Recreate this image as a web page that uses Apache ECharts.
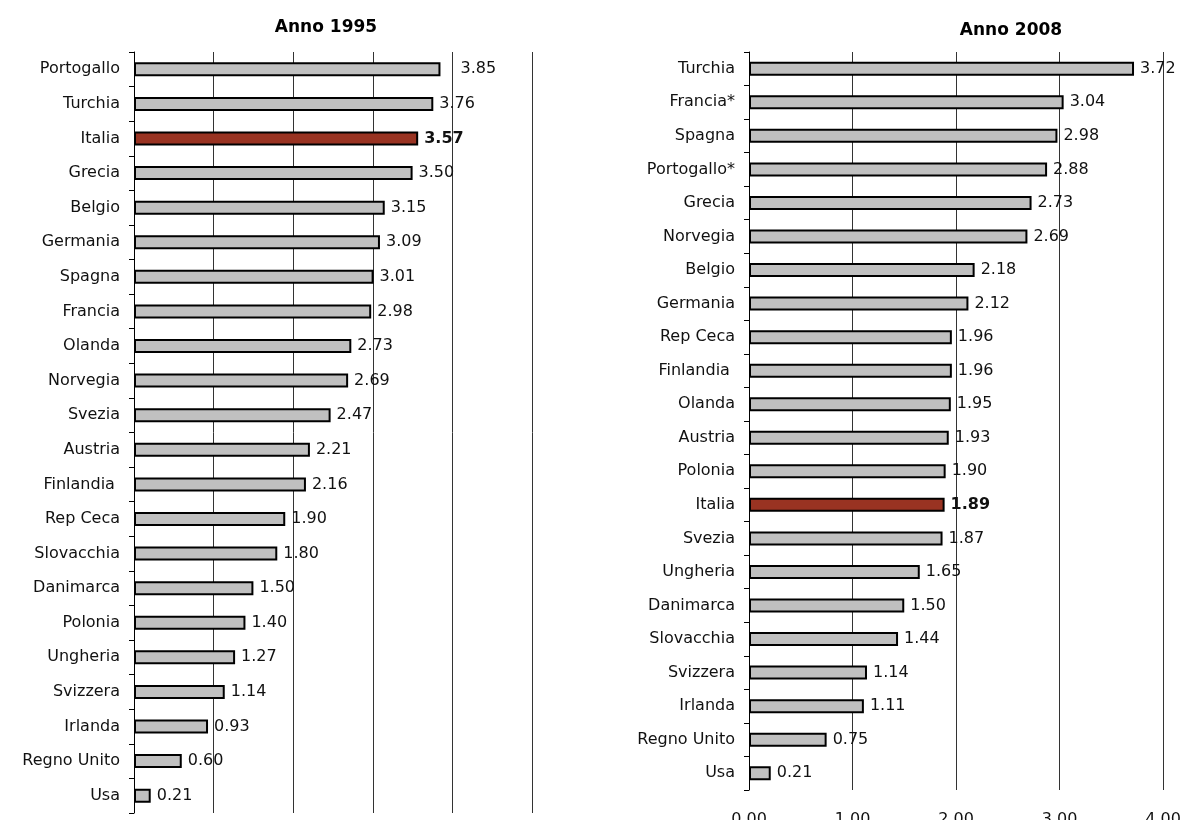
<!DOCTYPE html>
<html>
<head>
<meta charset="utf-8">
<script src="https://cdn.jsdelivr.net/npm/echarts@6/dist/echarts.min.js"></script>
<style>html,body{margin:0;padding:0;background:#fff}#c{width:1185px;height:820px}</style>
</head>
<body>
<div id="c"></div>
<script>
const cats1995 = ["Portogallo","Turchia","Italia","Grecia","Belgio","Germania","Spagna","Francia","Olanda","Norvegia","Svezia","Austria","Finlandia ","Rep Ceca","Slovacchia","Danimarca","Polonia","Ungheria","Svizzera","Irlanda","Regno Unito","Usa"];
const vals1995 = [3.85,3.76,3.57,3.50,3.15,3.09,3.01,2.98,2.73,2.69,2.47,2.21,2.16,1.90,1.80,1.50,1.40,1.27,1.14,0.93,0.60,0.21];
const cats2008 = ["Turchia","Francia*","Spagna","Portogallo*","Grecia","Norvegia","Belgio","Germania","Rep Ceca","Finlandia ","Olanda","Austria","Polonia","Italia","Svezia","Ungheria","Danimarca","Slovacchia","Svizzera","Irlanda","Regno Unito","Usa"];
const vals2008 = [3.72,3.04,2.98,2.88,2.73,2.69,2.18,2.12,1.96,1.96,1.95,1.93,1.90,1.89,1.87,1.65,1.50,1.44,1.14,1.11,0.75,0.21];
const titles = ["Anno 1995","Anno 2008"];
const highlight = "Italia";

const FONT = "DejaVu Sans";
function mkData(cats, vals, extraOffsetIdx) {
  return vals.map((v, i) => {
    const it = {value: v};
    if (cats[i] === highlight) {
      it.itemStyle = {color: '#993322'};
      it.label = {fontWeight: 'bold'};
    }
    if (i === extraOffsetIdx) {
      it.label = Object.assign({}, it.label || {}, {distance: 20});
    }
    return it;
  });
}
const chart = echarts.init(document.getElementById('c'));
const yAxisBase = {
  type: 'category', inverse: true,
  axisLine: {show: true, lineStyle: {color: '#000', width: 1}},
  axisTick: {show: true, length: 5, lineStyle: {color: '#000'}},
  axisLabel: {color: '#111', fontFamily: FONT, fontSize: 16, margin: 14},
  splitLine: {show: false}
};
const xAxisBase = {
  type: 'value', min: 0, interval: 1,
  axisLine: {show: false}, axisTick: {show: false},
  splitLine: {show: true, lineStyle: {color: '#333', width: 1}},
  axisLabel: {color: '#111', fontFamily: FONT, fontSize: 16, margin: 22, verticalAlign: 'top', formatter: v => v.toFixed(2)}
};
const seriesBase = {
  type: 'bar', barWidth: 14,
  itemStyle: {color: '#C0C0C0', borderColor: '#000', borderWidth: 2},
  label: {show: true, position: 'right', distance: 6, color: '#111', fontFamily: FONT, fontSize: 16, formatter: p => p.value.toFixed(2)},
  animation: false
};
chart.setOption({
  animation: false,
  title: [
    {text: titles[0], left: 321, top: 14, textAlign: 'center', textStyle: {fontFamily: FONT, fontSize: 17, fontWeight: 'bold', color: '#000'}},
    {text: titles[1], left: 1006, top: 17, textAlign: 'center', textStyle: {fontFamily: FONT, fontSize: 17, fontWeight: 'bold', color: '#000'}}
  ],
  grid: [
    {left: 134, right: 1185 - 532, top: 52, bottom: 820 - 813, containLabel: false, outerBoundsMode: 'none'},
    {left: 749, right: 1185 - 1163, top: 52, bottom: 820 - 790, containLabel: false, outerBoundsMode: 'none'}
  ],
  xAxis: [
    Object.assign({}, xAxisBase, {gridIndex: 0, max: 5, axisLabel: Object.assign({}, xAxisBase.axisLabel, {show: false})}),
    Object.assign({}, xAxisBase, {gridIndex: 1, max: 4})
  ],
  yAxis: [
    Object.assign({}, yAxisBase, {gridIndex: 0, data: cats1995}),
    Object.assign({}, yAxisBase, {gridIndex: 1, data: cats2008})
  ],
  series: [
    Object.assign({}, seriesBase, {xAxisIndex: 0, yAxisIndex: 0, data: mkData(cats1995, vals1995, 0)}),
    Object.assign({}, seriesBase, {xAxisIndex: 1, yAxisIndex: 1, data: mkData(cats2008, vals2008, -1)})
  ]
});
</script>
</body>
</html>
